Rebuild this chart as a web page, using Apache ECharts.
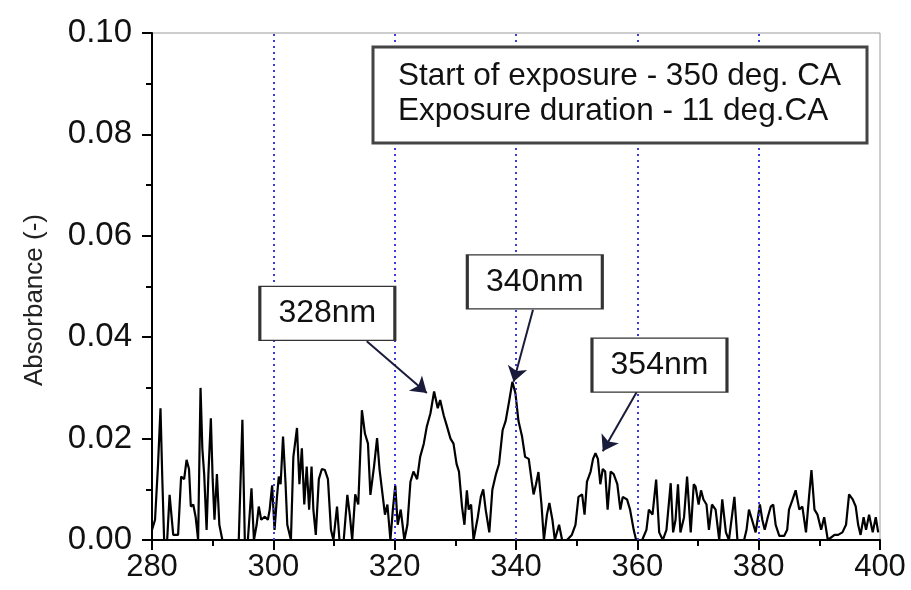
<!DOCTYPE html>
<html>
<head>
<meta charset="utf-8">
<script src="https://cdn.jsdelivr.net/npm/echarts@6/dist/echarts.min.js"></script>
<style>html,body{margin:0;padding:0;background:#fff}#c{width:911px;height:590px}</style>
</head>
<body>
<div id="c"></div>
<script>
// ---- data ----
var wavelength = [
280.0,280.5,281.0,281.4,281.7,282.0,282.5,282.9,283.5,284.3,284.8,285.3,285.7,286.1,286.4,286.8,287.2,287.6,
288.0,288.3,288.6,289.0,289.3,289.7,290.0,290.3,290.7,291.1,291.6,292.5,293.5,294.3,294.9,295.3,295.8,296.4,
296.8,297.25,297.6,298.0,298.6,299.1,299.4,299.8,300.2,300.6,300.9,301.2,301.6,302.0,302.3,302.9,303.3,303.9,
304.3,304.7,305.1,305.5,305.9,306.3,306.6,307.0,307.5,308.0,308.5,309.0,309.5,309.9,310.5,310.9,311.6,312.2,
312.6,313.0,313.5,314.0,314.6,315.1,315.6,316.0,316.6,317.1,317.5,318.0,318.4,318.8,319.3,319.7,320.1,320.5,
321.0,321.6,322.1,322.6,323.1,323.7,324.2,324.8,325.3,325.9,326.5,327.1,327.5,328.1,328.6,329.2,329.7,330.2,
330.6,331.1,331.5,331.9,332.2,332.6,333.0,333.7,334.2,334.6,335.0,335.6,336.1,336.7,337.2,337.8,338.3,338.9,
339.4,339.9,340.4,341.0,341.5,342.1,342.6,342.9,343.3,343.7,344.2,344.6,345.1,345.5,346.0,346.4,347.1,347.6,
348.4,349.2,349.8,350.3,350.9,351.3,351.7,352.3,352.7,353.1,353.5,353.9,354.3,354.7,355.1,355.6,356.1,356.7,
357.2,357.6,358.3,358.8,359.4,359.8,360.8,361.5,361.9,362.5,363.1,363.6,364.2,364.8,365.5,365.9,366.3,366.7,
367.1,367.7,368.2,368.8,369.3,369.6,370.1,370.5,370.9,371.4,371.8,372.3,372.9,373.5,374.0,374.6,375.1,376.0,
376.5,377.6,378.0,378.4,378.9,379.5,380.2,380.6,381.0,381.5,382.0,382.4,382.8,383.4,384.2,384.7,385.0,385.6,
386.1,386.7,387.2,387.8,388.3,388.7,389.2,389.7,390.3,390.8,391.4,392.5,393.1,393.8,394.4,394.9,395.5,396.0,
396.4,396.8,397.3,397.7,398.2,398.8,399.3,399.7
];
var absorbance = [
0.002,0.004,0.015,0.026,0.012,0.000,0.000,0.0089,0.001,0.001,0.0125,0.012,0.0158,0.014,0.0066,0.007,0.0045,0.000,
0.030,0.018,0.013,0.002,0.013,0.024,0.012,0.004,0.013,0.003,0.000,0.000,0.000,0.000,0.0237,0.000,0.000,0.0102,
0.000,0.003,0.0066,0.004,0.0046,0.004,0.006,0.0108,0.002,0.0085,0.0125,0.011,0.0204,0.0115,0.003,0.000,0.0164,0.0221,
0.011,0.0181,0.007,0.0145,0.006,0.0145,0.006,0.001,0.012,0.014,0.0138,0.012,0.002,0.000,0.0066,0.000,0.000,0.0089,
0.005,0.000,0.009,0.007,0.0256,0.021,0.019,0.0089,0.0145,0.0201,0.014,0.009,0.005,0.007,0.000,0.006,0.0108,0.003,
0.006,0.000,0.003,0.0115,0.0135,0.012,0.0164,0.019,0.0224,0.025,0.0293,0.026,0.0276,0.0245,0.0225,0.020,0.019,0.015,
0.0135,0.0066,0.003,0.0098,0.006,0.007,0.000,0.0045,0.0085,0.010,0.006,0.0015,0.0099,0.013,0.015,0.0217,0.0235,0.0276,
0.0312,0.029,0.0235,0.0204,0.0164,0.016,0.0115,0.009,0.011,0.0134,0.007,0.000,0.005,0.0073,0.004,0.000,0.003,0.000,
0.000,0.001,0.003,0.0085,0.009,0.005,0.0115,0.0135,0.016,0.0171,0.016,0.011,0.014,0.0135,0.006,0.0135,0.013,0.011,
0.006,0.0085,0.008,0.006,0.002,0.000,0.000,0.002,0.006,0.005,0.0119,0.0015,0.000,0.002,0.0112,0.0015,0.004,0.011,
0.0015,0.0045,0.0125,0.0015,0.011,0.0105,0.007,0.0098,0.008,0.007,0.002,0.007,0.006,0.000,0.008,0.0015,0.000,0.0085,
0.000,0.000,0.002,0.006,0.004,0.0015,0.007,0.004,0.002,0.0045,0.0066,0.007,0.003,0.0008,0.0008,0.002,0.006,0.008,
0.0098,0.006,0.0066,0.0015,0.0085,0.0138,0.006,0.005,0.002,0.0045,0.000,0.001,0.001,0.0015,0.003,0.009,0.008,0.0066,
0.003,0.001,0.0045,0.002,0.005,0.0015,0.0045,0.0015
];
var guideLines = [300, 320, 340, 360, 380];
var peakLabels = ['328nm', '340nm', '354nm'];
var peakBoxX = [308.9, 343.1, 363.65];
var peakBoxY = [0.0447, 0.0509, 0.0345];
var arrowFromX = [315.4, 342.8, 359.9];
var arrowFromY = [0.0392, 0.0454, 0.0292];
var arrowToX = [325.3, 339.6, 354.3];
var arrowToY = [0.0290, 0.0312, 0.0175];
var noteLines = ['Start of exposure - 350 deg. CA', 'Exposure duration - 11 deg.CA'];
var xTicks = [280, 400, 20];
var yTicks = [0, 0.10, 0.02];
var yTitle = 'Absorbance (-)';

var FONT = '"Liberation Sans", Arial, sans-serif';
var chart = echarts.init(document.getElementById('c'), null, {renderer: 'canvas'});

var lineData = wavelength.map(function (w, i) { return [w, absorbance[i]]; });

var boxData = peakLabels.map(function (t, i) {
  return { name: t, coord: [peakBoxX[i], peakBoxY[i]], value: t };
});
var arrowData = peakLabels.map(function (t, i) {
  return [{ coord: [arrowFromX[i], arrowFromY[i]] }, { coord: [arrowToX[i], arrowToY[i]] }];
});

chart.setOption({
  animation: false,
  backgroundColor: '#fff',
  grid: { left: 152, right: 31, top: 33, bottom: 50, show: true, borderColor: '#9a9a9a', borderWidth: 1, backgroundColor: 'transparent' },
  xAxis: {
    type: 'value', min: xTicks[0], max: xTicks[1], interval: xTicks[2],
    axisLine: { show: true, onZero: false, lineStyle: { color: '#000', width: 2 } },
    axisTick: { show: true, length: 10, lineStyle: { color: '#000', width: 2 } },
    minorTick: { show: true, splitNumber: 2, length: 6, lineStyle: { color: '#000', width: 2 } },
    splitLine: { show: false },
    axisLabel: { color: '#111', fontSize: 31, fontFamily: FONT, margin: 12 }
  },
  yAxis: {
    type: 'value', min: yTicks[0], max: yTicks[1], interval: yTicks[2],
    axisLine: { show: true, onZero: false, lineStyle: { color: '#000', width: 2 } },
    axisTick: { show: true, length: 10, lineStyle: { color: '#000', width: 2 } },
    minorTick: { show: true, splitNumber: 2, length: 6, lineStyle: { color: '#000', width: 2 } },
    splitLine: { show: false },
    axisLabel: { color: '#111', fontSize: 33, fontFamily: FONT, margin: 20,
      formatter: function (v) { return v.toFixed(2); } }
  },
  series: [
    {
      type: 'line', data: [], z: 1, silent: true,
      markLine: {
        silent: true, symbol: ['none', 'none'], animation: false,
        label: { show: false },
        lineStyle: { color: '#3a3ae0', type: [2, 4], width: 2 },
        data: guideLines.map(function (g) { return { xAxis: g }; })
      }
    },
    {
      type: 'line', data: lineData, z: 3, showSymbol: false, symbol: 'none',
      lineStyle: { color: '#000', width: 2.2 }
    },
    {
      type: 'line', data: [], z: 5, silent: true,
      markLine: {
        silent: true, animation: false,
        symbol: ['none', 'arrow'], symbolSize: 15,
        label: { show: false },
        lineStyle: { color: '#1a1a3a', type: 'solid', width: 2 },
        data: arrowData
      },
      markPoint: {
        silent: true, animation: false,
        symbol: 'rect', symbolSize: [135, 54],
        itemStyle: { color: '#fff', borderColor: '#333', borderWidth: 2 },
        label: { show: true, position: 'inside', color: '#111', fontSize: 32, fontFamily: FONT,
          formatter: function (p) { return p.name; } },
        data: boxData
      }
    }
  ],
  graphic: [
    { type: 'rect', z: 10, shape: { x: 373, y: 47, width: 494, height: 96 },
      style: { fill: '#fff', stroke: '#444', lineWidth: 3 } },
    { type: 'text', z: 11, x: 398, y: 76,
      style: { text: noteLines[0], font: '31.5px ' + FONT, fill: '#111', textVerticalAlign: 'middle', verticalAlign: 'middle' } },
    { type: 'text', z: 11, x: 398, y: 111,
      style: { text: noteLines[1], font: '31.5px ' + FONT, fill: '#111', textVerticalAlign: 'middle', verticalAlign: 'middle' } },
    { type: 'text', z: 11, x: 35, y: 300, rotation: Math.PI / 2,
      style: { text: yTitle, font: '26px ' + FONT, fill: '#222', align: 'center', verticalAlign: 'middle', textAlign: 'center', textVerticalAlign: 'middle' } }
  ]
});
</script>
</body>
</html>
